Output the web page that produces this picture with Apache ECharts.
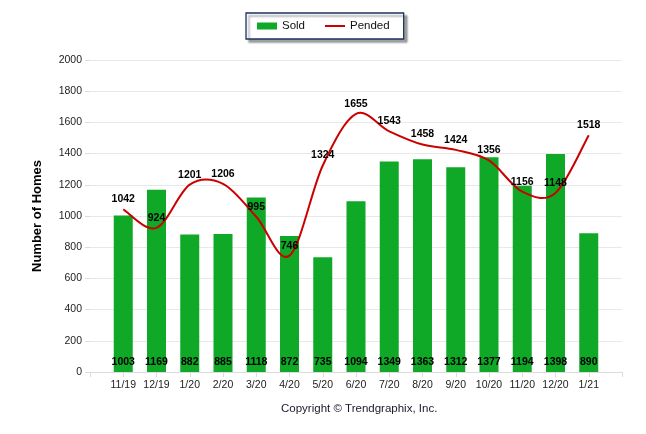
<!DOCTYPE html>
<html><head><meta charset="utf-8">
<script src="https://cdn.jsdelivr.net/npm/echarts@6/dist/echarts.min.js"></script>
<style>html,body{margin:0;padding:0;background:#fff}#c{width:646px;height:434px}</style>
</head><body><div id="c"></div>
<script>
const categories = ['11/19','12/19','1/20','2/20','3/20','4/20','5/20','6/20','7/20','8/20','9/20','10/20','11/20','12/20','1/21'];
const sold = [1003,1169,882,885,1118,872,735,1094,1349,1363,1312,1377,1194,1398,890];
const pended = [1042,924,1201,1206,995,746,1324,1655,1543,1458,1424,1356,1156,1148,1518];
const yTicks = {min:0, max:2000, interval:200};

// pad the category axis with an empty slot at each end
const axisCats = [''].concat(categories, ['']);
const soldData = [null].concat(sold, [null]);
const pendedData = [null].concat(pended, [null]);
const curveData = pended.map(function(v,i){return [i+1, v];});

const numFont = '"Liberation Sans",sans-serif';

function renderCurve(params, api){
  if (params.dataIndex !== 0) return null;
  const pts = curveData.map(function(d){return api.coord(d);});
  let d = 'M' + pts[0][0] + ' ' + pts[0][1];
  for (let i = 0; i < pts.length - 1; i++) {
    const p0 = pts[i-1] || pts[i], p1 = pts[i], p2 = pts[i+1], p3 = pts[i+2] || pts[i+1];
    const c1x = p1[0] + (p2[0]-p0[0])/6, c1y = p1[1] + (p2[1]-p0[1])/6;
    const c2x = p2[0] - (p3[0]-p1[0])/6, c2y = p2[1] - (p3[1]-p1[1])/6;
    d += ' C' + c1x + ' ' + c1y + ' ' + c2x + ' ' + c2y + ' ' + p2[0] + ' ' + p2[1];
  }
  return {type:'path', shape:{pathData:d}, style:{stroke:'#cc0000', lineWidth:2, fill:'none'}, silent:true};
}

const chart = echarts.init(document.getElementById('c'));
chart.setOption({
  animation:false,
  backgroundColor:'#fff',
  legend:{
    top:13, left:246, itemGap:20, itemWidth:20, itemHeight:7,
    padding:[7,14,7,11],
    borderColor:'#1a3360', borderWidth:1.3, backgroundColor:'#fff',
    shadowColor:'rgba(0,0,0,0.35)', shadowOffsetX:3, shadowOffsetY:3, shadowBlur:2,
    textStyle:{fontFamily:'"Liberation Sans",sans-serif', fontSize:11.5, color:'#111'},
    data:[
      {name:'Sold', icon:'rect', itemStyle:{color:'#0fa827'}},
      {name:'Pended', icon:'path://M0,0 L24,0 L24,2.4 L0,2.4 Z', itemStyle:{color:'#cc0000', opacity:1}}
    ]
  },
  grid:{left:90, right:24, top:60, bottom:62},
  xAxis:{
    type:'category', data:axisCats, boundaryGap:false,
    axisLine:{lineStyle:{color:'#dcdcdc'}},
    axisTick:{show:true, length:5, lineStyle:{color:'#dcdcdc'}},
    axisLabel:{fontFamily:'"Liberation Sans",sans-serif', fontSize:10.5, color:'#222', margin:8, interval:0},
    splitLine:{show:false}
  },
  yAxis:{
    type:'value', min:yTicks.min, max:yTicks.max, interval:yTicks.interval,
    name:'Number of Homes', nameLocation:'middle', nameGap:46,
    nameTextStyle:{fontFamily:'"Liberation Sans",sans-serif', fontWeight:'bold', fontSize:13, color:'#000'},
    axisLine:{show:false},
    axisTick:{show:true, length:5, lineStyle:{color:'#dcdcdc'}},
    axisLabel:{fontFamily:'"Liberation Sans",sans-serif', fontSize:10.5, color:'#222', margin:8,
      formatter:function(v){return String(v);}},
    splitLine:{lineStyle:{color:'#e8e8e8'}}
  },
  series:[
    {
      name:'Sold', type:'bar', data:soldData, barWidth:19,
      itemStyle:{color:'#0fa827'},
      label:{show:true, position:'insideBottom', distance:4,
        fontFamily:numFont, fontWeight:'bold', fontSize:10.5, color:'#000'}
    },
    {
      name:'PendedCurve', type:'custom', data:curveData, renderItem:renderCurve,
      silent:true, z:3, clip:false
    },
    {
      name:'Pended', type:'line', data:pendedData,
      symbol:'circle', symbolSize:1, showSymbol:true,
      lineStyle:{color:'#cc0000', width:2, opacity:0},
      itemStyle:{color:'#cc0000', opacity:0},
      label:{show:true, position:'top', distance:4, opacity:1,
        fontFamily:numFont, fontWeight:'bold', fontSize:10.5, color:'#000'},
      z:4
    }
  ],
  graphic:[{
    type:'text', left:281, top:403,
    style:{text:'Copyright \u00A9 Trendgraphix, Inc.', fontFamily:'"Liberation Sans",sans-serif', fontSize:11.5, fill:'#1a1a2a'}
  }]
});
</script></body></html>
